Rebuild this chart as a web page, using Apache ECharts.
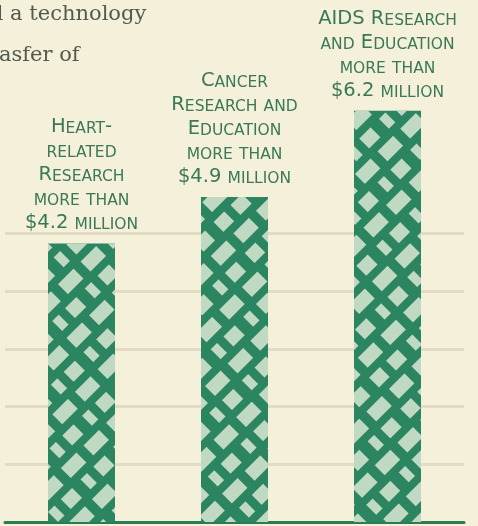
<!DOCTYPE html>
<html>
<head>
<meta charset="utf-8">
<script src="https://cdn.jsdelivr.net/npm/echarts@6/dist/echarts.min.js"></script>
<style>
html,body{margin:0;padding:0;background:#f4f0da;}
#c{width:478px;height:526px;}
</style>
</head>
<body>
<div id="c"></div>
<script>
const categories = ['Heart-related Research', 'Cancer Research and Education', 'AIDS Research and Education'];
const values = [4.2, 4.9, 6.2];
const labelLines = [
  ['Heart-', 'related', 'Research', 'more than', '$4.2 million'],
  ['Cancer', 'Research and', 'Education', 'more than', '$4.9 million'],
  ['AIDS Research', 'and Education', 'more than', '$6.2 million']
];
const gridValues = [0.87, 1.74, 2.61, 3.48, 4.35];
const introLines = ['d a technology', 'asfer of'];

function smallCaps(line) {
  let out = '';
  let cur = null, buf = '';
  for (const ch of line) {
    const big = !(ch >= 'a' && ch <= 'z');
    const t = big ? 'b' : 's';
    if (cur !== null && t !== cur) { out += '{' + cur + '|' + buf + '}'; buf = ''; }
    cur = t;
    buf += ch.toUpperCase();
  }
  if (buf) out += '{' + cur + '|' + buf + '}';
  return out;
}

const green = '#3a7857';
const chart = echarts.init(document.getElementById('c'));
chart.setOption({
  backgroundColor: '#f4f0da',
  animation: false,
  graphic: introLines.map((t, i) => ({
    type: 'text',
    left: i === 0 ? -10 : -1,
    top: i === 0 ? 4 : 45,
    style: { text: t, font: '21px "DejaVu Serif", serif', fill: '#535a4f' }
  })),
  grid: { left: 5, right: 14, top: 0, bottom: 4 },
  xAxis: {
    type: 'category',
    data: categories,
    axisLine: { show: true, lineStyle: { color: '#2b7b57', width: 3 } },
    axisTick: { show: false },
    axisLabel: { show: false }
  },
  yAxis: {
    type: 'value', min: 0, max: 7.87,
    show: false, splitLine: { show: false }
  },
  series: [{
    type: 'bar',
    data: values,
    barWidth: 67,
    z: 3,
    itemStyle: {
      color: '#2b8560',
      decal: {
        symbol: 'rect', symbolSize: 1,
        color: 'rgba(208,226,206,0.9)',
        dashArrayX: [[22, 10], [9, 9, 16, 12]],
        dashArrayY: [14, 8],
        rotation: -Math.PI / 4
      }
    },
    label: {
      show: true, position: 'top', distance: 10,
      align: 'center',
      formatter: p => labelLines[p.dataIndex].map(smallCaps).join('\n'),
      rich: {
        b: { fontFamily: 'DejaVu Sans', fontSize: 19.5, color: green, lineHeight: 24, verticalAlign: 'bottom' },
        s: { fontFamily: 'DejaVu Sans', fontSize: 15.5, color: green, lineHeight: 24, verticalAlign: 'bottom' }
      }
    }
  }, {
    type: 'line',
    data: [],
    z: 1,
    markLine: {
      z: 1,
      silent: true, symbol: 'none', label: { show: false },
      lineStyle: { color: '#e4dcc2', width: 3, type: 'solid' },
      data: gridValues.map(v => ({ yAxis: v }))
    }
  }]
});
</script>
</body>
</html>
